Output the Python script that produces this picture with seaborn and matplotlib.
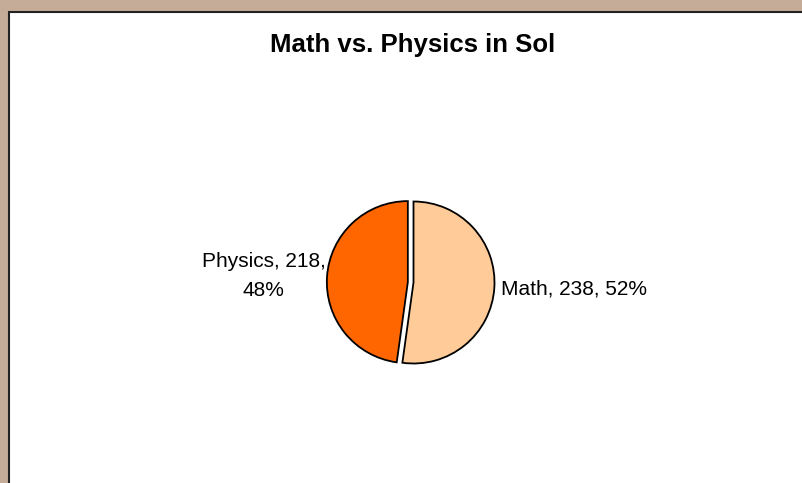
import matplotlib
matplotlib.use('Agg')
import matplotlib.pyplot as plt
from matplotlib.patches import Rectangle
import seaborn as sns

# Chart data
subjects = ['Math', 'Physics']
counts = [238, 218]
shares = [52, 48]
slice_colors = ['#FFCC99', '#FF6600']
explode = [0.0, 0.07]
title = 'Math vs. Physics in Sol'

sns.set_theme(style='white')
plt.rcParams['font.family'] = ['Liberation Sans', 'DejaVu Sans']

W, H = 802, 483
fig = plt.figure(figsize=(W / 100, H / 100), dpi=100, facecolor='#C4AC98')

# white chart area with dark edge on left/top
fig.add_artist(Rectangle((9 / W, -0.1), 1.2, 1.1 - 12 / H, transform=fig.transFigure,
                         facecolor='white', edgecolor='#222222', linewidth=1.5, zorder=0))

# pie axes: radius 1 -> ~81 px, centred near (413, 282)
r_px = 81
size = 2.5 * r_px
cx, cy = 413.5, H - 282.5
ax = fig.add_axes([(cx - size / 2) / W, (cy - size / 2) / H, size / W, size / H])
ax.set_facecolor('none')

labels = [f'{s}, {c}, {p}%' for s, c, p in zip(subjects, counts, shares)]
labels[1] = labels[1].replace(', 48%', ',\n48%')

wedges, texts = ax.pie(counts, labels=labels, colors=slice_colors, explode=explode,
                       startangle=90, counterclock=False, labeldistance=1.08,
                       wedgeprops=dict(edgecolor='black', linewidth=1.3),
                       textprops=dict(fontsize=15, color='black'))
# physics label sits a little closer to its slice
texts[1].set_x(texts[1].get_position()[0] + 0.06)
texts[1].set_multialignment('center')
texts[1].set_linespacing(1.65)
ax.set_xlim(-1.25, 1.25)
ax.set_ylim(-1.25, 1.25)
ax.set_aspect('equal')
ax.axis('off')

fig.text(412.5 / W, 1 - 52 / H, title, ha='center', va='baseline',
         fontsize=18.5, fontweight='bold', color='black')

fig.savefig('out.png', dpi=100, facecolor=fig.get_facecolor())
